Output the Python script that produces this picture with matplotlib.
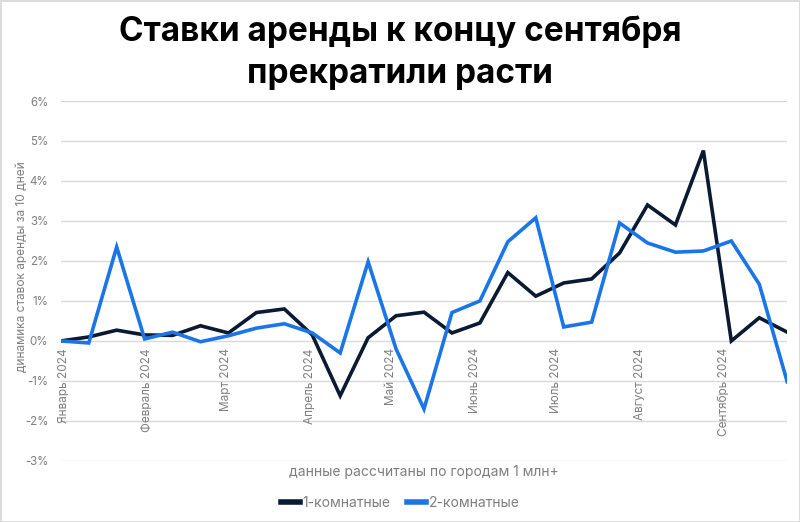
import numpy as np
import matplotlib.pyplot as plt

# динамика ставок аренды, % за 10 дней (27 точек, январь-сентябрь 2024)
one_room = [0.0, 0.1, 0.27, 0.15, 0.14, 0.38, 0.2, 0.71, 0.8, 0.15,
            -1.37, 0.08, 0.63, 0.72, 0.2, 0.45, 1.71, 1.12, 1.45, 1.55,
            2.2, 3.4, 2.9, 4.76, 0.0, 0.58, 0.22]
two_room = [0.0, -0.05, 2.35, 0.05, 0.22, -0.02, 0.13, 0.32, 0.43, 0.2,
            -0.3, 1.98, -0.2, -1.7, 0.71, 1.0, 2.48, 3.08, 0.35, 0.47,
            2.95, 2.45, 2.22, 2.25, 2.5, 1.42, -1.02]

months = ["Январь 2024", "Февраль 2024", "Март 2024", "Апрель 2024", "Май 2024",
          "Июнь 2024", "Июль 2024", "Август 2024", "Сентябрь 2024"]
month_days = [0, 31, 60, 91, 121, 152, 182, 213, 244]

y_ticks = [-3, -2, -1, 0, 1, 2, 3, 4, 5, 6]

plt.rcParams["font.family"] = ["Inter", "DejaVu Sans"]

grey = "#7f7f7f"
dark = "#0b1a33"
blue = "#1a75e6"

fig = plt.figure(figsize=(8, 5.22), dpi=100)
fig.patch.set_edgecolor("#dcdcdc")
fig.patch.set_linewidth(2)

ax = fig.add_axes([0.076, 0.117, 0.908, 0.6895])

x = np.arange(len(one_room))
ax.plot(x, one_room, color=dark, lw=2.6, label="1-комнатные", solid_joinstyle="miter")
ax.plot(x, two_room, color=blue, lw=2.6, label="2-комнатные", solid_joinstyle="miter")

ax.set_xlim(0, len(one_room) - 1)
ax.set_ylim(-3, 6)
ax.set_yticks(y_ticks)
ax.set_yticklabels([f"{t}%" for t in y_ticks])
ax.tick_params(axis="y", length=0, pad=9, labelsize=8.3, labelcolor=grey)
ax.set_xticks([])
ax.grid(axis="y", color="#d9d9d9", lw=1)
ax.set_axisbelow(True)
for s in ax.spines.values():
    s.set_visible(False)

# подписи месяцев внутри области графика
for d, m in zip(month_days, months):
    ax.text(d / 10.33 + 0.1, -0.18, m, rotation=90, ha="center", va="top",
            fontsize=8.5, color=grey)

fig.text(0.5, 0.9, "Ставки аренды к концу сентября\nпрекратили расти",
         ha="center", va="center", fontsize=24, fontweight="bold",
         color="black", linespacing=1.4)

fig.text(0.028, 0.49, "динамика ставок аренды за 10 дней", rotation=90,
         ha="center", va="center", fontsize=8.6, color=grey)

fig.text(0.53, 0.096, "данные рассчитаны по городам 1 млн+", ha="center",
         va="center", fontsize=10, color=grey)

ax.legend(loc="center", ncol=2, frameon=False, fontsize=10, labelcolor=grey,
          handlelength=1.4, handletextpad=0.15, columnspacing=1.2)
leg = ax.get_legend()
leg.set_bbox_to_anchor((0.5, 0.036), transform=fig.transFigure)
for h in leg.legend_handles:
    h.set_linewidth(4)

fig.savefig("out.png", dpi=100, edgecolor=fig.get_edgecolor())
